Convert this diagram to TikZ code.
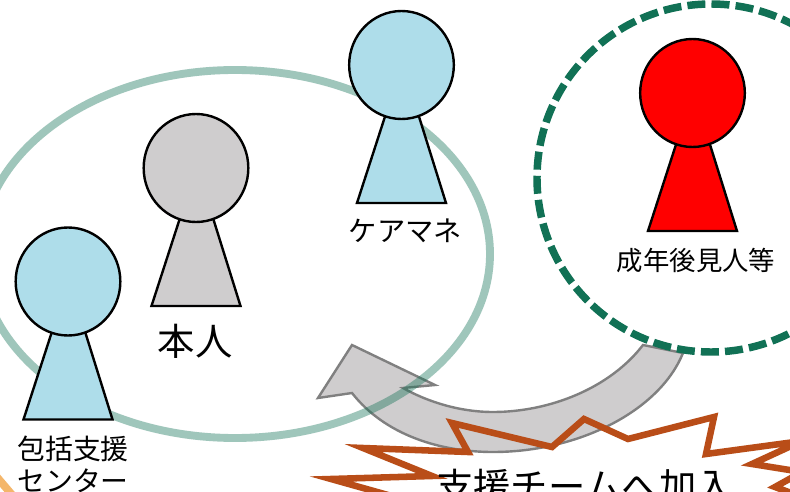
\documentclass[tikz,border=0pt]{standalone}
\usepackage{fontspec}
\usetikzlibrary{shapes.geometric}
\setmainfont{Noto Sans CJK JP}
\newcommand{\personfig}[4]{%
  \fill[#4,draw=black,line width=1.8pt,line join=miter]
    (#2-44.5,#3+138) -- (#2+44.5,#3+138) -- (#2+17,#3+50) -- (#2-16,#3+50) -- cycle;
  \node[headdisc,fill=#4] (#1) at (#2,#3) {};
}
\definecolor{teamgreen}{HTML}{117155}
\definecolor{skyfill}{HTML}{AEDDEA}
\definecolor{greyfill}{HTML}{CFCDCE}
\definecolor{burst}{HTML}{B94D18}
\definecolor{sunny}{HTML}{F4B66A}
\tikzset{
  headdisc/.style={ellipse,draw=black,line width=1.8pt,minimum width=78.5pt,minimum height=81pt,inner sep=0pt,outer sep=0pt},
  lab/.style={inner sep=0pt,text=black,align=center},
}
\begin{document}
\begin{tikzpicture}[x=0.75pt,y=-0.75pt]
\useasboundingbox (0,0) rectangle (790,492);
\clip (0,0) rectangle (790,492);
\fill[white] (0,0) rectangle (790,492);
% curved arrow
\fill[greyfill,draw=black!50,line width=1.8pt,line join=miter]
  (643,345) .. controls (610,388) and (550,412) .. (493,412)
  .. controls (460,412) and (428,402) .. (403,388)
  -- (435,385) -- (352,345) -- (318,398) -- (352,393)
  .. controls (385,435) and (440,452) .. (493,452)
  .. controls (580,452) and (660,410) .. (683,353) -- cycle;
% burst
\draw[burst,line width=4.9pt,line join=miter,miter limit=30]
  (395,497) -- (331,479) -- (432,476) -- (363,448) -- (468,452) -- (452,423) -- (552,447)
  -- (584,419) -- (628,439) -- (714,417) -- (706,454) -- (802,441)
  -- (752,464) -- (802,472) -- (775,487) -- (802,497);
% support ring
\draw[teamgreen,opacity=0.4,line width=5.9pt] (235,254) ellipse [x radius=255,y radius=184];
% dashed ring
\draw[teamgreen,line width=5.6pt,dash pattern=on 13.5pt off 4.6pt] (711,178) circle [radius=174];
% orange fragment
\draw[sunny,line width=5.9pt] (-4,476) -- (13,496);
% persons
\personfig{keyman}{401.5}{65}{skyfill}
\personfig{guardian}{692.5}{93}{red}
\personfig{self}{196}{168}{greyfill}
\personfig{center}{68}{281.5}{skyfill}
% labels
\node[lab,font=\fontsize{21.2}{21.2}\selectfont] (lk) at (405.5,231) {ケアマネ};
\node[lab,font=\fontsize{19.8}{19.8}\selectfont] (lg) at (696,260) {成年後見人等};
\node[lab,font=\fontsize{28}{28}\selectfont] (ls) at (195,341) {本人};
\node[lab,font=\fontsize{20.9}{20.9}\selectfont] (lc1) at (73,449) {包括支援};
\node[lab,font=\fontsize{20.9}{20.9}\selectfont] (lc2) at (73,481) {センター};
\node[lab,font=\fontsize{28}{28}\selectfont] (lt) at (585,486) {支援チームへ加入};
\end{tikzpicture}
\end{document}
